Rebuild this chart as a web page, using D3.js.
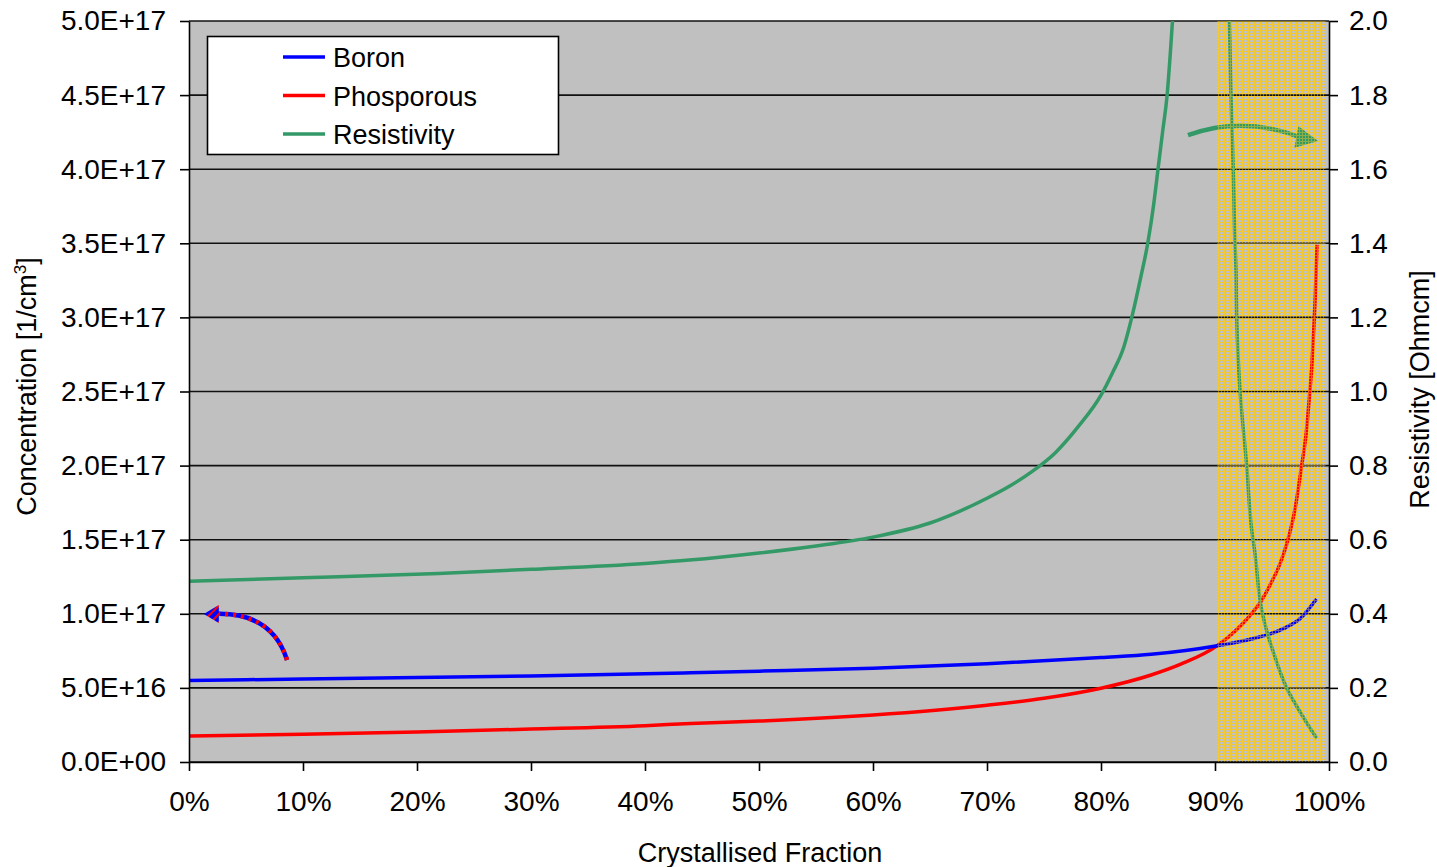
<!DOCTYPE html>
<html>
<head>
<meta charset="utf-8">
<script src="https://cdn.jsdelivr.net/npm/d3@7"></script>
<style>
  html, body { margin: 0; padding: 0; background: #fff; }
  svg text { font-family: "Liberation Sans", Arial, sans-serif; fill: #000; }
</style>
</head>
<body>
<svg id="chart" width="1437" height="867"></svg>
<script>
// crystallised fraction (0..1) and concentration (1/cm3)
const boronFrac = [0, 0.10, 0.20, 0.30, 0.40, 0.44, 0.50, 0.60, 0.70, 0.80, 0.844, 0.902, 0.931, 0.96, 0.975, 0.989];
const boronConc = [5.5e16, 5.6e16, 5.7e16, 5.8e16, 5.95e16, 6.02e16, 6.13e16, 6.33e16, 6.63e16, 7.05e16, 7.27e16, 7.85e16, 8.28e16, 9.0e16, 9.7e16, 1.10e17];

const phosFrac = [0, 0.10, 0.20, 0.30, 0.40, 0.44, 0.50, 0.60, 0.70, 0.75, 0.80, 0.844, 0.87, 0.902, 0.932, 0.94, 0.95, 0.955, 0.96, 0.965, 0.97, 0.976, 0.98, 0.983, 0.985, 0.987, 0.988, 0.9895];
const phosConc = [1.75e16, 1.88e16, 2.03e16, 2.22e16, 2.45e16, 2.6e16, 2.76e16, 3.17e16, 3.83e16, 4.3e16, 4.98e16, 5.87e16, 6.6e16, 7.85e16, 1.0e17, 1.08e17, 1.22e17, 1.30e17, 1.40e17, 1.53e17, 1.70e17, 2.0e17, 2.22e17, 2.48e17, 2.68e17, 2.98e17, 3.15e17, 3.49e17];

// resistivity (Ohmcm), two branches either side of the compensation point
const resLeftFrac = [0, 0.10, 0.219, 0.30, 0.40, 0.439, 0.50, 0.55, 0.60, 0.65, 0.70, 0.72, 0.74, 0.76, 0.78, 0.80, 0.81, 0.82, 0.827, 0.835, 0.841, 0.846, 0.850, 0.854, 0.858, 0.8605, 0.8627, 0.8645];
const resLeftVal = [0.488, 0.497, 0.509, 0.52, 0.536, 0.545, 0.564, 0.583, 0.607, 0.645, 0.712, 0.745, 0.785, 0.835, 0.905, 0.99, 1.05, 1.12, 1.2, 1.31, 1.4, 1.5, 1.6, 1.7, 1.8, 1.9, 2.0, 2.1];
const resRightFrac = [0.911, 0.9125, 0.914, 0.916, 0.9175, 0.9184, 0.919, 0.922, 0.9278, 0.9322, 0.935, 0.941, 0.9468, 0.9506, 0.9629, 0.9772, 0.9892];
const resRightVal = [2.1, 2.0, 1.8, 1.6, 1.4, 1.33, 1.2, 1.0, 0.8, 0.626, 0.565, 0.41, 0.338, 0.302, 0.2, 0.122, 0.064];

// shaded region (fraction)
const shadeRange = [0.902, 0.997];

const xTicks = [0, 0.1, 0.2, 0.3, 0.4, 0.5, 0.6, 0.7, 0.8, 0.9, 1.0];
const leftTicks = [0, 5e16, 1e17, 1.5e17, 2e17, 2.5e17, 3e17, 3.5e17, 4e17, 4.5e17, 5e17];
const rightTicks = [0, 0.2, 0.4, 0.6, 0.8, 1.0, 1.2, 1.4, 1.6, 1.8, 2.0];

const seriesNames = ['Boron', 'Phosporous', 'Resistivity'];
const seriesColors = ['#0000ff', '#ff0000', '#339966'];

// annotation arrows in data coords: [fraction, value]
const concArrow = [[0.086, 0.688e17], [0.0728, 1.012e17], [0.0228, 0.999e17], [0.013, 0.999e17]];
const resArrow = [[0.8763, 1.692], [0.9263, 1.746], [0.9763, 1.684], [0.9904, 1.676]];

const plot = { left: 189, right: 1329, top: 21, bottom: 762 };

const svg = d3.select('#chart');
const x = d3.scaleLinear().domain([0, 1]).range([plot.left, plot.right]);
const yL = d3.scaleLinear().domain([0, 5e17]).range([plot.bottom, plot.top]);
const yR = d3.scaleLinear().domain([0, 2]).range([plot.bottom, plot.top]);

const defs = svg.append('defs');
defs.append('clipPath').attr('id', 'clip')
  .append('rect')
  .attr('x', plot.left).attr('y', plot.top)
  .attr('width', plot.right - plot.left).attr('height', plot.bottom - plot.top);

const pat = defs.append('pattern').attr('id', 'yellowGrid')
  .attr('patternUnits', 'userSpaceOnUse').attr('width', 3).attr('height', 3);
pat.append('rect').attr('x', 0).attr('y', 0).attr('width', 3).attr('height', 1).attr('fill', '#f7ca20');
pat.append('rect').attr('x', 0).attr('y', 1).attr('width', 1).attr('height', 2).attr('fill', '#f7ca20');

const stripes = defs.append('pattern').attr('id', 'stripes')
  .attr('patternUnits', 'userSpaceOnUse').attr('width', 6).attr('height', 6)
  .attr('patternTransform', 'rotate(45)');
stripes.append('rect').attr('width', 6).attr('height', 6).attr('fill', '#0000ff');
stripes.append('rect').attr('width', 2).attr('height', 6).attr('fill', '#ff0000');

// plot background
svg.append('rect')
  .attr('x', plot.left).attr('y', plot.top)
  .attr('width', plot.right - plot.left).attr('height', plot.bottom - plot.top)
  .attr('fill', '#c0c0c0');

const shade = () => svg.append('rect')
  .attr('x', x(shadeRange[0])).attr('y', plot.top)
  .attr('width', x(shadeRange[1]) - x(shadeRange[0])).attr('height', plot.bottom - plot.top)
  .attr('fill', 'url(#yellowGrid)');

// shaded region under the marks
shade().attr('opacity', 0.85);

// gridlines
svg.append('g').selectAll('line').data(leftTicks).join('line')
  .attr('x1', plot.left).attr('x2', plot.right)
  .attr('y1', d => yL(d)).attr('y2', d => yL(d))
  .attr('stroke', '#111').attr('stroke-width', 1.6);

// series
const lines = svg.append('g').attr('clip-path', 'url(#clip)');
const lineL = d3.line().x(d => x(d[0])).y(d => yL(d[1])).curve(d3.curveMonotoneX);

lines.append('path').datum(d3.zip(phosFrac, phosConc))
  .attr('d', lineL).attr('fill', 'none').attr('stroke', seriesColors[1]).attr('stroke-width', 3.5);
lines.append('path').datum(d3.zip(boronFrac, boronConc))
  .attr('d', lineL).attr('fill', 'none').attr('stroke', seriesColors[0]).attr('stroke-width', 3.5);
lines.append('path').datum(d3.zip(resLeftFrac, resLeftVal))
  .attr('d', d3.line().x(d => x(d[0])).y(d => yR(d[1])).curve(d3.curveMonotoneX))
  .attr('fill', 'none').attr('stroke', seriesColors[2]).attr('stroke-width', 3.5);
lines.append('path').datum(d3.zip(resRightFrac, resRightVal))
  .attr('d', d3.line().x(d => x(d[0])).y(d => yR(d[1])).curve(d3.curveMonotoneY))
  .attr('fill', 'none').attr('stroke', seriesColors[2]).attr('stroke-width', 3.5);

// arrows
function arrow(pts, fill, back, half, drawShaft) {
  const [p0, c, p1, tip] = pts;
  const g = svg.append('g');
  const path = `M${p0[0]},${p0[1]} Q${c[0]},${c[1]} ${p1[0]},${p1[1]}`;
  drawShaft(g, path);
  const dx = tip[0] - p1[0], dy = tip[1] - p1[1];
  const len = Math.hypot(dx, dy);
  const ux = dx / len, uy = dy / len;
  const bx = tip[0] - ux * back, by = tip[1] - uy * back;
  g.append('path')
    .attr('d', `M${tip[0]},${tip[1]} L${bx - uy * half},${by + ux * half} L${bx + uy * half},${by - ux * half} Z`)
    .attr('fill', fill);
}
arrow(concArrow.map(d => [x(d[0]), yL(d[1])]), 'url(#stripes)', 15, 9, (g, p) => {
  g.append('path').attr('d', p).attr('fill', 'none').attr('stroke', '#0000ff').attr('stroke-width', 4.5);
  g.append('path').attr('d', p).attr('fill', 'none').attr('stroke', '#ff0000').attr('stroke-width', 4.5).attr('stroke-dasharray', '3,5');
});
arrow(resArrow.map(d => [x(d[0]), yR(d[1])]), seriesColors[2], 22, 11, (g, p) => {
  g.append('path').attr('d', p).attr('fill', 'none').attr('stroke', seriesColors[2]).attr('stroke-width', 4.5);
});

// light texture of the shaded region over the marks
shade().attr('opacity', 0.45);

// axes
function sci(v) {
  if (v === 0) return '0.0E+00';
  const e = Math.floor(Math.log10(v) + 1e-9);
  const m = v / Math.pow(10, e);
  return m.toFixed(1) + 'E+' + String(e).padStart(2, '0');
}
const axisStyle = g => {
  g.select('.domain').attr('stroke', '#000').attr('stroke-width', 1.6);
  g.selectAll('.tick line').attr('stroke', '#000').attr('stroke-width', 1.6);
  g.selectAll('.tick text').attr('font-size', 28).attr('fill', '#000')
    .attr('font-family', '"Liberation Sans", Arial, sans-serif');
};

svg.append('g').attr('transform', `translate(${plot.left},0)`)
  .call(d3.axisLeft(yL).tickValues(leftTicks).tickFormat(sci).tickSize(9).tickSizeOuter(0).tickPadding(14))
  .call(axisStyle);
svg.append('g').attr('transform', `translate(${plot.right},0)`)
  .call(d3.axisRight(yR).tickValues(rightTicks).tickFormat(d3.format('.1f')).tickSize(9).tickSizeOuter(0).tickPadding(11))
  .call(axisStyle);
svg.append('g').attr('transform', `translate(0,${plot.bottom})`)
  .call(d3.axisBottom(x).tickValues(xTicks).tickFormat(d3.format('.0%')).tickSize(9).tickSizeOuter(0).tickPadding(20))
  .call(axisStyle);

// axis titles
svg.append('text').attr('x', (plot.left + plot.right) / 2 + 1).attr('y', 862)
  .attr('text-anchor', 'middle').attr('font-size', 27).text('Crystallised Fraction');
const lt = svg.append('text').attr('transform', `translate(36,${(plot.top + plot.bottom) / 2 - 5}) rotate(-90)`)
  .attr('text-anchor', 'middle').attr('font-size', 27);
lt.append('tspan').text('Concentration [1/cm');
lt.append('tspan').attr('font-size', 17).attr('dy', -10).text('3');
lt.append('tspan').attr('dy', 10).text(']');
svg.append('text').attr('transform', `translate(1429,${(plot.top + plot.bottom) / 2 - 2}) rotate(-90)`)
  .attr('text-anchor', 'middle').attr('font-size', 27).text('Resistivity [Ohmcm]');

// legend
const legend = svg.append('g');
legend.append('rect').attr('x', 207.5).attr('y', 36.5).attr('width', 351).attr('height', 118)
  .attr('fill', '#fff').attr('stroke', '#000').attr('stroke-width', 1.6);
seriesNames.forEach((name, i) => {
  const yy = 57 + i * 38.5;
  legend.append('line').attr('x1', 283).attr('x2', 325).attr('y1', yy).attr('y2', yy)
    .attr('stroke', seriesColors[i]).attr('stroke-width', 3.5);
  legend.append('text').attr('x', 333).attr('y', yy + 10).attr('font-size', 27).text(name);
});
</script>
</body>
</html>
